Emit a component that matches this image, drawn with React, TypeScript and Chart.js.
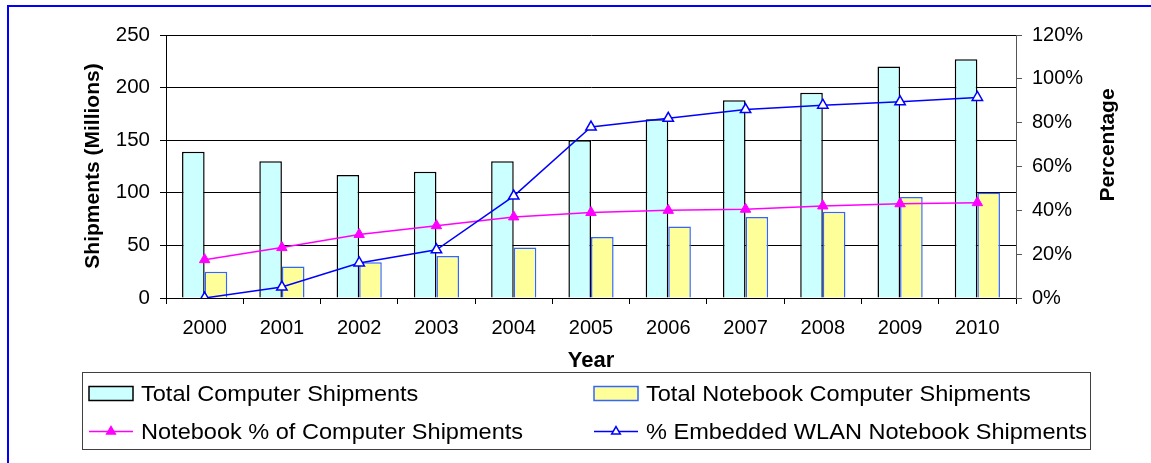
import React, { useEffect, useRef } from 'react';
import { Chart, registerables } from 'chart.js';

Chart.register(...registerables);

const years = ['2000', '2001', '2002', '2003', '2004', '2005', '2006', '2007', '2008', '2009', '2010'];
const totalShipments = [139, 130, 117, 120, 130, 150, 170, 188, 195, 220, 227];
const notebookShipments = [25, 30, 34, 40, 48, 58, 68, 77, 82, 96, 100];
const notebookPct = [17.5, 23, 29, 33, 37, 39, 40, 40.5, 42, 43, 43.5];
const wlanPct = [0, 5, 16, 22, 46.5, 78, 82, 86, 88, 89.5, 91.5];

const leftTicks = [0, 50, 100, 150, 200, 250];
const rightTicks = [0, 20, 40, 60, 80, 100, 120];

const FONT = '"Liberation Sans", Arial, sans-serif';

const legendItems = [
  { label: 'Total Computer Shipments', kind: 'bar', fill: '#CCFFFF', stroke: '#000000', col: 0, row: 0 },
  { label: 'Total Notebook Computer Shipments', kind: 'bar', fill: '#FFFF99', stroke: '#3366FF', col: 1, row: 0 },
  { label: 'Notebook % of Computer Shipments', kind: 'line', fill: '#FF00FF', stroke: '#FF00FF', col: 0, row: 1 },
  { label: '% Embedded WLAN Notebook Shipments', kind: 'line', fill: '#FFFFFF', stroke: '#0000FF', col: 1, row: 1 },
];

function tri(ctx: CanvasRenderingContext2D, cx: number, cy: number, r: number) {
  const h = r * 1.5;
  const w = r * 1.732;
  ctx.beginPath();
  ctx.moveTo(cx, cy - h * 2 / 3);
  ctx.lineTo(cx + w / 2, cy + h / 3);
  ctx.lineTo(cx - w / 2, cy + h / 3);
  ctx.closePath();
}

const decorPlugin = {
  id: 'decor',
  afterDraw(chart: any) {
    const ctx: CanvasRenderingContext2D = chart.ctx;
    ctx.save();
    // outer blue frame (top and left visible)
    ctx.fillStyle = '#0000FF';
    ctx.fillRect(7, 5, 1200, 2);
    ctx.fillRect(7, 5, 2, 600);

    // axis titles
    ctx.fillStyle = '#000';
    ctx.textAlign = 'center';
    ctx.textBaseline = 'middle';
    ctx.font = `bold 22px ${FONT}`;
    ctx.fillText('Year', 591, 361);

    ctx.font = `bold 21px ${FONT}`;
    ctx.save();
    ctx.translate(93, 166);
    ctx.rotate(-Math.PI / 2);
    ctx.fillText('Shipments (Millions)', 0, 0);
    ctx.restore();

    ctx.save();
    ctx.translate(1108, 145);
    ctx.rotate(-Math.PI / 2);
    ctx.fillText('Percentage', 0, 0);
    ctx.restore();

    // legend box
    ctx.strokeStyle = '#404040';
    ctx.lineWidth = 1;
    ctx.strokeRect(82.5, 372.5, 1008, 77);

    const colX = [89, 594];
    const rowY = [393.5, 431.5];
    ctx.textAlign = 'left';
    for (const it of legendItems) {
      const x = colX[it.col];
      const y = rowY[it.row];
      if (it.kind === 'bar') {
        ctx.fillStyle = it.fill;
        ctx.fillRect(x, y - 7, 44, 14);
        ctx.strokeStyle = it.stroke;
        ctx.lineWidth = 1.5;
        ctx.strokeRect(x, y - 7, 44, 14);
      } else {
        ctx.strokeStyle = it.stroke;
        ctx.lineWidth = 1.5;
        ctx.beginPath();
        ctx.moveTo(x, y);
        ctx.lineTo(x + 44, y);
        ctx.stroke();
        tri(ctx, x + 22, y, 5);
        ctx.fillStyle = it.fill;
        ctx.fill();
        ctx.stroke();
      }
      ctx.save();
      ctx.translate(x + 52, y + 1);
      ctx.scale(1.07, 1);
      ctx.font = `22px ${FONT}`;
      ctx.textBaseline = 'middle';
      ctx.fillStyle = '#000';
      ctx.fillText(it.label, 0, 0);
      ctx.restore();
    }
    ctx.restore();
  },
};

export default function App() {
  const ref = useRef<HTMLCanvasElement | null>(null);

  useEffect(() => {
    if (!ref.current) return;
    const chart = new Chart(ref.current, {
      type: 'bar',
      data: {
        labels: years,
        datasets: [
          {
            type: 'line',
            label: '% Embedded WLAN Notebook Shipments',
            data: wlanPct,
            yAxisID: 'y1',
            borderColor: '#0000FF',
            backgroundColor: '#FFFFFF',
            borderWidth: 1.5,
            pointStyle: 'triangle',
            pointRadius: 6,
            pointBorderWidth: 1.5,
            pointBackgroundColor: '#FFFFFF',
            pointBorderColor: '#0000FF',
            tension: 0,
            order: 0,
          },
          {
            type: 'line',
            label: 'Notebook % of Computer Shipments',
            data: notebookPct,
            yAxisID: 'y1',
            borderColor: '#FF00FF',
            backgroundColor: '#FF00FF',
            borderWidth: 1.5,
            pointStyle: 'triangle',
            pointRadius: 6,
            pointBorderWidth: 1,
            pointBackgroundColor: '#FF00FF',
            pointBorderColor: '#FF00FF',
            tension: 0,
            order: 1,
          },
          {
            type: 'bar',
            label: 'Total Computer Shipments',
            data: totalShipments,
            yAxisID: 'y',
            backgroundColor: '#CCFFFF',
            borderColor: '#000000',
            borderWidth: 1.5,
            categoryPercentage: 0.585,
            barPercentage: 1,
            order: 2,
          },
          {
            type: 'bar',
            label: 'Total Notebook Computer Shipments',
            data: notebookShipments,
            yAxisID: 'y',
            backgroundColor: '#FFFF99',
            borderColor: '#3366FF',
            borderWidth: 1.5,
            categoryPercentage: 0.585,
            barPercentage: 1,
            order: 2,
          },
        ],
      },
      options: {
        responsive: false,
        animation: false,
        layout: { padding: { top: 35, left: 0, right: 0, bottom: 0 } },
        plugins: {
          legend: { display: false },
          tooltip: { enabled: false },
          title: { display: false },
        },
        scales: {
          x: {
            offset: true,
            grid: {
              display: true,
              drawOnChartArea: false,
              drawTicks: true,
              tickLength: 6,
              color: '#000',
              offset: true,
            },
            border: { color: '#000', width: 1 },
            ticks: {
              color: '#000',
              font: { family: FONT, size: 20 },
              padding: 12,
              maxRotation: 0,
              autoSkip: false,
            },
            afterFit: (s: any) => {
              s.height = 165;
            },
          },
          y: {
            position: 'left',
            min: 0,
            max: 250,
            afterBuildTicks: (s: any) => {
              s.ticks = leftTicks.map((v) => ({ value: v }));
            },
            grid: { color: '#000', tickLength: 6, drawTicks: true },
            border: { color: '#000', width: 1 },
            ticks: {
              color: '#000',
              font: { family: FONT, size: 20.5 },
              padding: 10,
            },
            afterFit: (s: any) => {
              s.width = 166;
            },
          },
          y1: {
            position: 'right',
            min: 0,
            max: 120,
            afterBuildTicks: (s: any) => {
              s.ticks = rightTicks.map((v) => ({ value: v }));
            },
            grid: { drawOnChartArea: false, tickLength: 6, drawTicks: true, color: '#555' },
            border: { color: '#555', width: 1 },
            ticks: {
              color: '#000',
              font: { family: FONT, size: 20 },
              padding: 10,
              callback: (v: any) => `${v}%`,
            },
            afterFit: (s: any) => {
              s.width = 135;
            },
          },
        },
      },
      plugins: [decorPlugin],
    });
    return () => chart.destroy();
  }, []);

  return (
    <div style={{ position: 'fixed', left: 0, top: 0, width: 1151, height: 463, background: '#fff' }}>
      <canvas ref={ref} width={1151} height={463} style={{ display: 'block' }} />
    </div>
  );
}
